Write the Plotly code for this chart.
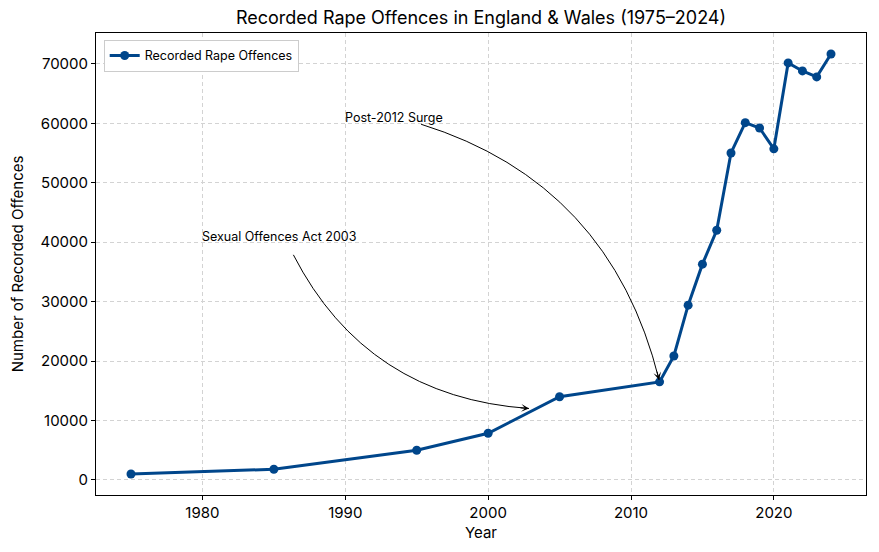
import plotly.graph_objects as go

# Data
years = [1975, 1985, 1995, 2000, 2005, 2012, 2013, 2014, 2015, 2016,
         2017, 2018, 2019, 2020, 2021, 2022, 2023, 2024]
offences = [1000, 1800, 5000, 7850, 14000, 16500, 20850, 29400, 36300, 42000,
            55000, 60100, 59200, 55700, 70150, 68800, 67800, 71650]

x_ticks = [1980, 1990, 2000, 2010, 2020]
y_ticks = [0, 10000, 20000, 30000, 40000, 50000, 60000, 70000]

# annotations: label, text anchor (data), arrow target (data), curvature
notes = [
    ("Sexual Offences Act 2003", (1980, 40000), (2003, 12000), 0.3, 82),
    ("Post-2012 Surge", (1990, 60000), (2012, 16500), -0.3, 51),
]

# page body adds 8px, so the figure is a bit smaller than the window
W, H = 871, 544
M = dict(l=88, r=13, t=25, b=57)
pad_x = (max(years) - min(years)) * 0.05
pad_y = (max(offences) - min(offences)) * 0.05
x_range = [min(years) - pad_x, max(years) + pad_x]
y_range = [min(offences) - pad_y, max(offences) + pad_y]
pw = W - M["l"] - M["r"]
ph = H - M["t"] - M["b"]


def to_px(x, y):
    px = (x - x_range[0]) / (x_range[1] - x_range[0]) * pw
    py = (y - y_range[0]) / (y_range[1] - y_range[0]) * ph
    return px, py  # y up


def to_data(px, py):
    return (x_range[0] + px / pw * (x_range[1] - x_range[0]),
            y_range[0] + py / ph * (y_range[1] - y_range[0]))


line_col = "#00468b"
font = "Inter"

fig = go.Figure()
fig.add_trace(go.Scatter(
    x=years, y=offences, mode="lines+markers",
    name="Recorded Rape Offences",
    line=dict(color=line_col, width=3),
    marker=dict(color=line_col, size=9),
))

for label, (tx, ty), (ex, ey), rad, half_w in notes:
    fig.add_annotation(
        x=tx, y=ty, text=label, showarrow=False,
        xanchor="left", yanchor="bottom", yshift=-4, xshift=-2,
        font=dict(size=12.5, color="black", family=font),
    )
    # curved arrow like matplotlib arc3, from text centre to target
    sx, sy = to_px(tx, ty)
    sx, sy = sx + half_w, sy + 6
    e2x, e2y = to_px(ex, ey)
    dx, dy = e2x - sx, e2y - sy
    cx, cy = (sx + e2x) / 2 + rad * dy, (sy + e2y) / 2 - rad * dx
    t0 = 0.06
    bx = (1 - t0) ** 2 * sx + 2 * (1 - t0) * t0 * cx + t0 ** 2 * e2x
    by = (1 - t0) ** 2 * sy + 2 * (1 - t0) * t0 * cy + t0 ** 2 * e2y
    qx, qy = (1 - t0) * cx + t0 * e2x, (1 - t0) * cy + t0 * e2y
    # shrink end a bit
    ux, uy = e2x - qx, e2y - qy
    ln = (ux ** 2 + uy ** 2) ** 0.5
    fx, fy = e2x - ux / ln * 2, e2y - uy / ln * 2
    p0 = to_data(bx, by)
    pc = to_data(qx, qy)
    p1 = to_data(fx, fy)
    fig.add_shape(
        type="path", xref="x", yref="y",
        path=f"M {p0[0]},{p0[1]} Q {pc[0]},{pc[1]} {p1[0]},{p1[1]}",
        line=dict(color="black", width=1),
    )
    fig.add_annotation(
        x=p1[0], y=p1[1], text="", showarrow=True,
        axref="pixel", ayref="pixel",
        ax=-ux / ln * 10, ay=uy / ln * 10,
        arrowhead=3, arrowsize=1.3, arrowwidth=1, arrowcolor="black", standoff=0,
    )

axis_common = dict(
    showline=True, linecolor="black", linewidth=1, mirror=True,
    ticks="outside", ticklen=4, tickcolor="black", automargin=False,
    showgrid=True, gridcolor="#d3d3d3", griddash="4px,3px", gridwidth=1,
    zeroline=False, tickfont=dict(size=15, color="black", family=font),
)

fig.update_xaxes(range=x_range, tickvals=x_ticks, title=dict(
    text="Year", font=dict(size=15, color="black", family=font), standoff=6),
    **axis_common)
fig.update_yaxes(range=y_range, tickvals=y_ticks, tickformat="d", title=dict(
    text="Number of Recorded Offences", font=dict(size=15, color="black", family=font),
    standoff=14), **axis_common)

fig.update_layout(
    width=W, height=H, margin=M,
    paper_bgcolor="white", plot_bgcolor="white",
    title=dict(text="Recorded Rape Offences in England & Wales (1975–2024)",
               x=(M["l"] + pw / 2) / W, xanchor="center", y=1 - 10 / H, yanchor="middle",
               font=dict(size=18, color="black", family=font)),
    font=dict(family=font, color="black"),
    showlegend=True,
    legend=dict(x=0.01, y=0.985, xanchor="left", yanchor="top",
                bgcolor="white", bordercolor="#cccccc", borderwidth=1,
                font=dict(size=12.5, color="black", family=font)),
)

fig.write_html("out.html")
